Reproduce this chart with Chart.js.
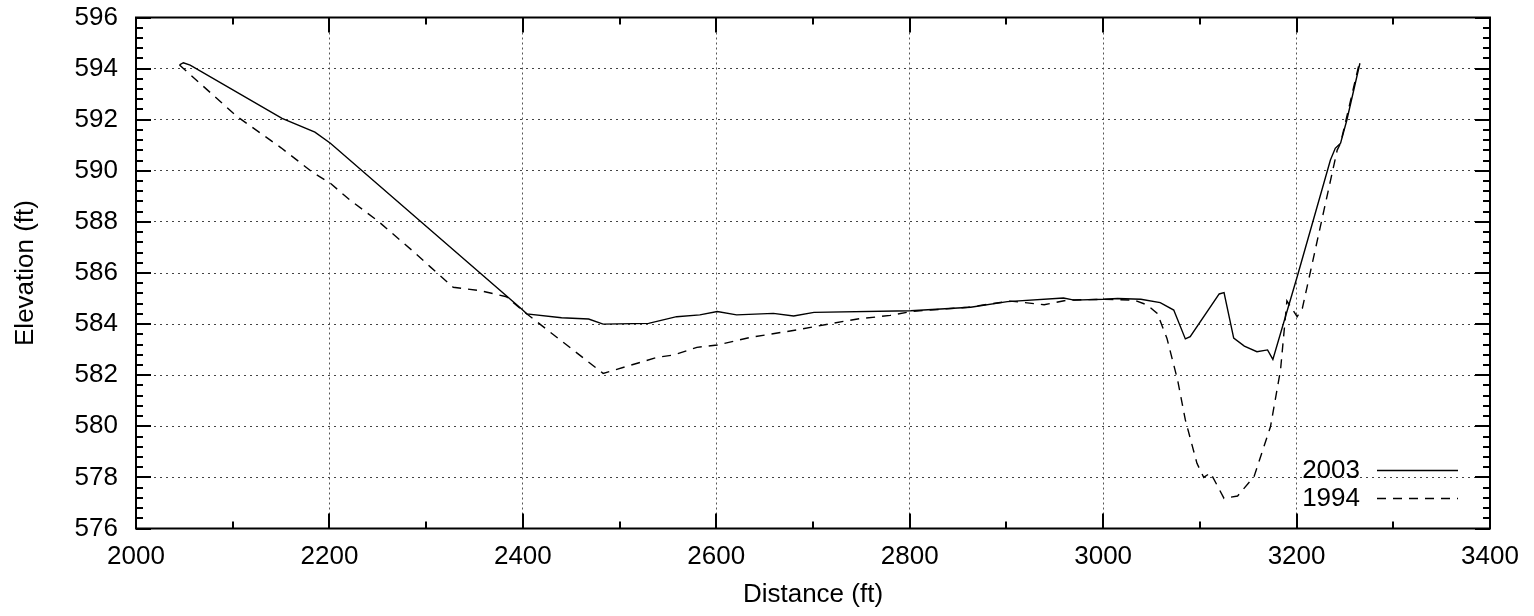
<!DOCTYPE html>
<html>
<head>
<meta charset="utf-8">
<script src="https://cdn.jsdelivr.net/npm/chart.js@4"></script>
<style>
  html, body { margin: 0; padding: 0; background: #fff; }
  canvas { display: block; }
</style>
</head>
<body>
<canvas id="perfil" width="1534" height="616"></canvas>
<script>
const DIST_2003 = [2045, 2049, 2056, 2151, 2185, 2201, 2399, 2404, 2440, 2468, 2483, 2530, 2559, 2583,
    2601, 2621, 2659, 2680, 2701, 2801, 2863, 2901, 2959, 2970, 3000, 3015, 3039, 3059, 3073, 3085,
    3090, 3120, 3125, 3135, 3146, 3159, 3170, 3175.5, 3201, 3235, 3240, 3245.5, 3252, 3265.5];
const ELEV_2003 = [594.15, 594.23, 594.14, 592.05, 591.51, 591.08, 584.58, 584.40, 584.25, 584.20, 584.00,
    584.03, 584.29, 584.36, 584.49, 584.36, 584.42, 584.32, 584.46, 584.52, 584.66, 584.88, 585.02,
    584.94, 584.97, 585.00, 584.97, 584.84, 584.55, 583.42, 583.51, 585.18, 585.23, 583.45, 583.14,
    582.92, 582.99, 582.62, 585.90, 590.42, 590.88, 591.08, 591.99, 594.21];

const DIST_1994 = [2045, 2104, 2150, 2182, 2201, 2221, 2249, 2285, 2304, 2328, 2356, 2383, 2401, 2483,
    2539, 2556, 2580, 2601, 2635, 2683, 2735, 2746, 2780, 2801, 2860, 2904, 2939, 2963, 3000, 3032,
    3045.5, 3056, 3066, 3077, 3085, 3097, 3104, 3111, 3125, 3139, 3156, 3173, 3183.4, 3190, 3200.6,
    3206, 3242, 3245.5, 3264.4];
const ELEV_1994 = [594.14, 592.14, 590.9, 589.96, 589.51, 588.86, 588.07, 586.9, 586.25, 585.44, 585.31,
    585.07, 584.49, 582.07, 582.70, 582.79, 583.09, 583.18, 583.48, 583.77, 584.13, 584.20, 584.34,
    584.49, 584.66, 584.90, 584.76, 584.94, 584.97, 584.94, 584.75, 584.42, 583.44, 581.81, 580.25,
    578.55, 578.00, 578.18, 577.18, 577.27, 578.03, 579.98, 582.20, 584.91, 584.29, 584.62, 590.81,
    591.08, 594.14];

const ETIQUETAS = ['2003', '1994'];
const X_MIN = 2000, X_MAX = 3400, X_PASO = 200, X_MENOR = 100;
const Y_MIN = 576, Y_MAX = 596, Y_PASO = 2, Y_MENOR = 0.4;

const FUENTE = "'Liberation Sans', Arial, Helvetica, sans-serif";
const TAM = 26;
Chart.defaults.font.family = FUENTE;
Chart.defaults.font.size = TAM;
Chart.defaults.color = '#000';

function aPuntos(xs, ys) {
    return xs.map((x, i) => ({ x, y: ys[i] }));
}

// marco, marcas interiores (mayores y menores, espejadas) y leyenda estilo gnuplot
const marcoYLeyenda = {
    id: 'marcoYLeyenda',
    afterDraw(chart) {
        const { ctx, chartArea: a, scales: { x, y } } = chart;
        ctx.save();
        ctx.strokeStyle = '#000';
        ctx.lineWidth = 2;
        ctx.setLineDash([]);
        ctx.beginPath();

        const nx = Math.round((X_MAX - X_MIN) / X_MENOR);
        for (let i = 0; i <= nx; i++) {
            const v = X_MIN + i * X_MENOR;
            const len = (v - X_MIN) % X_PASO === 0 ? 15 : 7;
            const px = Math.round(x.getPixelForValue(v));
            ctx.moveTo(px, a.bottom); ctx.lineTo(px, a.bottom - len);
            ctx.moveTo(px, a.top); ctx.lineTo(px, a.top + len);
        }
        const ny = Math.round((Y_MAX - Y_MIN) / Y_MENOR);
        for (let i = 0; i <= ny; i++) {
            const v = Y_MIN + i * Y_MENOR;
            const len = i % Math.round(Y_PASO / Y_MENOR) === 0 ? 15 : 7;
            const py = Math.round(y.getPixelForValue(v));
            ctx.moveTo(a.left, py); ctx.lineTo(a.left + len, py);
            ctx.moveTo(a.right, py); ctx.lineTo(a.right - len, py);
        }
        ctx.stroke();
        ctx.strokeRect(a.left, a.top, a.right - a.left, a.bottom - a.top);

        // leyenda
        ctx.font = `${TAM}px ${FUENTE}`;
        ctx.fillStyle = '#000';
        ctx.textAlign = 'right';
        ctx.textBaseline = 'middle';
        const filas = [471, 499];
        chart.data.datasets.forEach((ds, i) => {
            const yy = filas[i];
            ctx.fillText(ds.label, 1360, yy);
            ctx.lineWidth = ds.borderWidth;
            ctx.setLineDash(ds.borderDash || []);
            ctx.beginPath();
            ctx.moveTo(1377, yy - 0.5);
            ctx.lineTo(1458, yy - 0.5);
            ctx.stroke();
        });
        ctx.restore();
    }
};

new Chart(document.getElementById('perfil'), {
    type: 'scatter',
    data: {
        datasets: [
            {
                label: ETIQUETAS[0],
                data: aPuntos(DIST_2003, ELEV_2003),
                showLine: true,
                borderColor: '#000',
                borderWidth: 1.4,
                pointRadius: 0,
                tension: 0,
            },
            {
                label: ETIQUETAS[1],
                data: aPuntos(DIST_1994, ELEV_1994),
                showLine: true,
                borderColor: '#000',
                borderWidth: 1.4,
                borderDash: [9, 7],
                pointRadius: 0,
                tension: 0,
            },
        ],
    },
    options: {
        responsive: false,
        animation: false,
        devicePixelRatio: 1,
        layout: { padding: { top: 17.5, right: 44, left: 0, bottom: 0 } },
        plugins: { legend: { display: false }, tooltip: { enabled: false } },
        scales: {
            x: {
                type: 'linear',
                min: X_MIN,
                max: X_MAX,
                afterFit: s => { s.height = 87.5; s.paddingLeft = 0; s.paddingRight = 0; },
                ticks: { stepSize: X_PASO, padding: 13, maxRotation: 0, autoSkip: false, callback: v => String(v) },
                grid: { color: '#555', lineWidth: 1, drawTicks: false, borderDash: [2, 3] },
                border: { display: false, dash: [2, 3] },
                title: { display: true, text: 'Distance (ft)', padding: { top: 0, bottom: 6 } },
            },
            y: {
                type: 'linear',
                min: Y_MIN,
                max: Y_MAX,
                afterFit: s => { s.width = 136; s.paddingTop = 0; s.paddingBottom = 0; },
                ticks: { stepSize: Y_PASO, padding: 18, callback: v => String(v) },
                grid: { color: '#444', lineWidth: 1, drawTicks: false, borderDash: [2, 4] },
                border: { display: false, dash: [2, 4] },
                title: { display: true, text: 'Elevation (ft)', padding: { top: 10, bottom: 0 } },
            },
        },
    },
    plugins: [marcoYLeyenda],
});
</script>
</body>
</html>
